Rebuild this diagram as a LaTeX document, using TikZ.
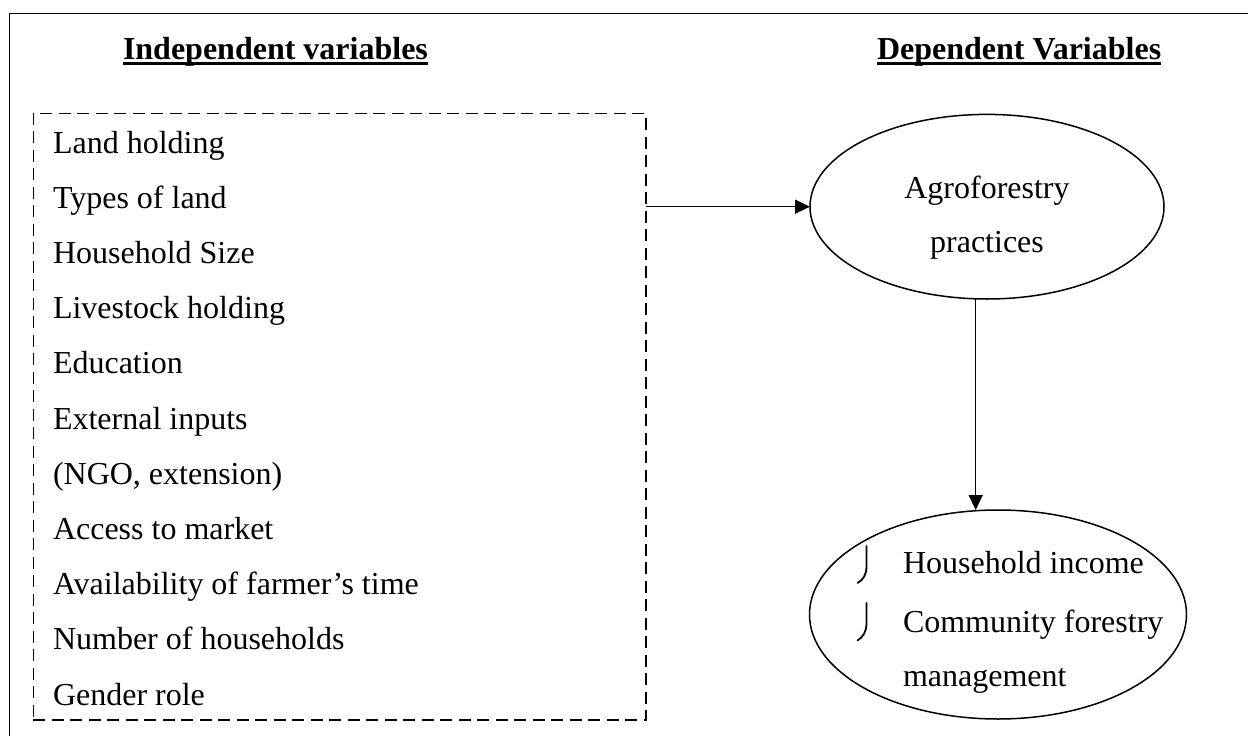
\documentclass[tikz,border=0pt]{standalone}
\usepackage{fontspec}
\setmainfont{Liberation Serif}
\usetikzlibrary{arrows.meta,shapes.geometric}
\begin{document}
\begin{tikzpicture}[x=1pt,y=-1pt,
  every node/.style={inner sep=0pt, outer sep=0pt},
  txt/.style={font=\fontsize{32}{36}\selectfont, anchor=base west},
  ctxt/.style={font=\fontsize{32}{36}\selectfont, anchor=base},
  head/.style={font=\fontsize{32}{36}\selectfont\bfseries, anchor=base west},
  uline/.style={line width=3pt},
  frame/.style={line width=1.5pt},
  group/.style={draw, dashed, dash pattern=on 12pt off 6.5pt, line width=1.5pt, anchor=north west},
  bubble/.style={draw, ellipse, line width=1.5pt},
  link/.style={line width=1.5pt, -{Triangle[length=15pt,width=14pt]}},
  tick/.style={line width=1.8pt, line cap=round},
  ]
\useasboundingbox (0,0) rectangle (1248,736);

% page frame (only the top and left edges fall on the page)
\draw[frame] (1248,13.5) -- (9.5,13.5) -- (9.5,736);

% column headings
\node[head] (hind) at (123,59) {Independent variables};
\node[head] (hdep) at (877,59) {Dependent Variables};
\draw[uline] ([yshift=-4.3pt]hind.base west) -- ([yshift=-4.3pt]hind.base east);
\draw[uline] ([yshift=-4.3pt]hdep.base west) -- ([yshift=-4.3pt]hdep.base east);

% independent variables
\node[group, minimum width=612.7pt, minimum height=606.7pt] (indep) at (33.3,113.3) {};
\foreach \t [count=\i from 0] in {Land holding, Types of land, Household Size,
    Livestock holding, Education, External inputs, {(NGO, extension)},
    Access to market, Availability of farmer’s time, Number of households,
    Gender role}
  \node[txt] (v\i) at (53, 153+55.2*\i) {\t};

% dependent variables
\node[bubble, minimum width=354pt, minimum height=184.6pt] (agro) at (987,206.7) {};
\node[ctxt] (agro1) at (987,198) {Agroforestry};
\node[ctxt] (agro2) at (987,252) {practices};

\node[bubble, minimum width=377pt, minimum height=209pt] (outc) at (998,614.5) {};
\node[txt] (out1) at (903,573.3) {Household income};
\node[txt] (out2) at (903,632.3) {Community forestry};
\node[txt] (out3) at (903,686.7) {management};

% list marks
\draw[tick] (866.5,546) -- (866.5,566) .. controls (866.5,575) and (863,580) .. (857.5,583);
\draw[tick] (866.5,603) -- (866.5,623) .. controls (866.5,632) and (863,637) .. (857.5,640.5);

% connectors
\draw[link] (agro.west -| indep.east) -- (agro.west);
\draw[link] (agro.-97.4) -- (agro.-97.4 |- outc.north);
\end{tikzpicture}
\end{document}
